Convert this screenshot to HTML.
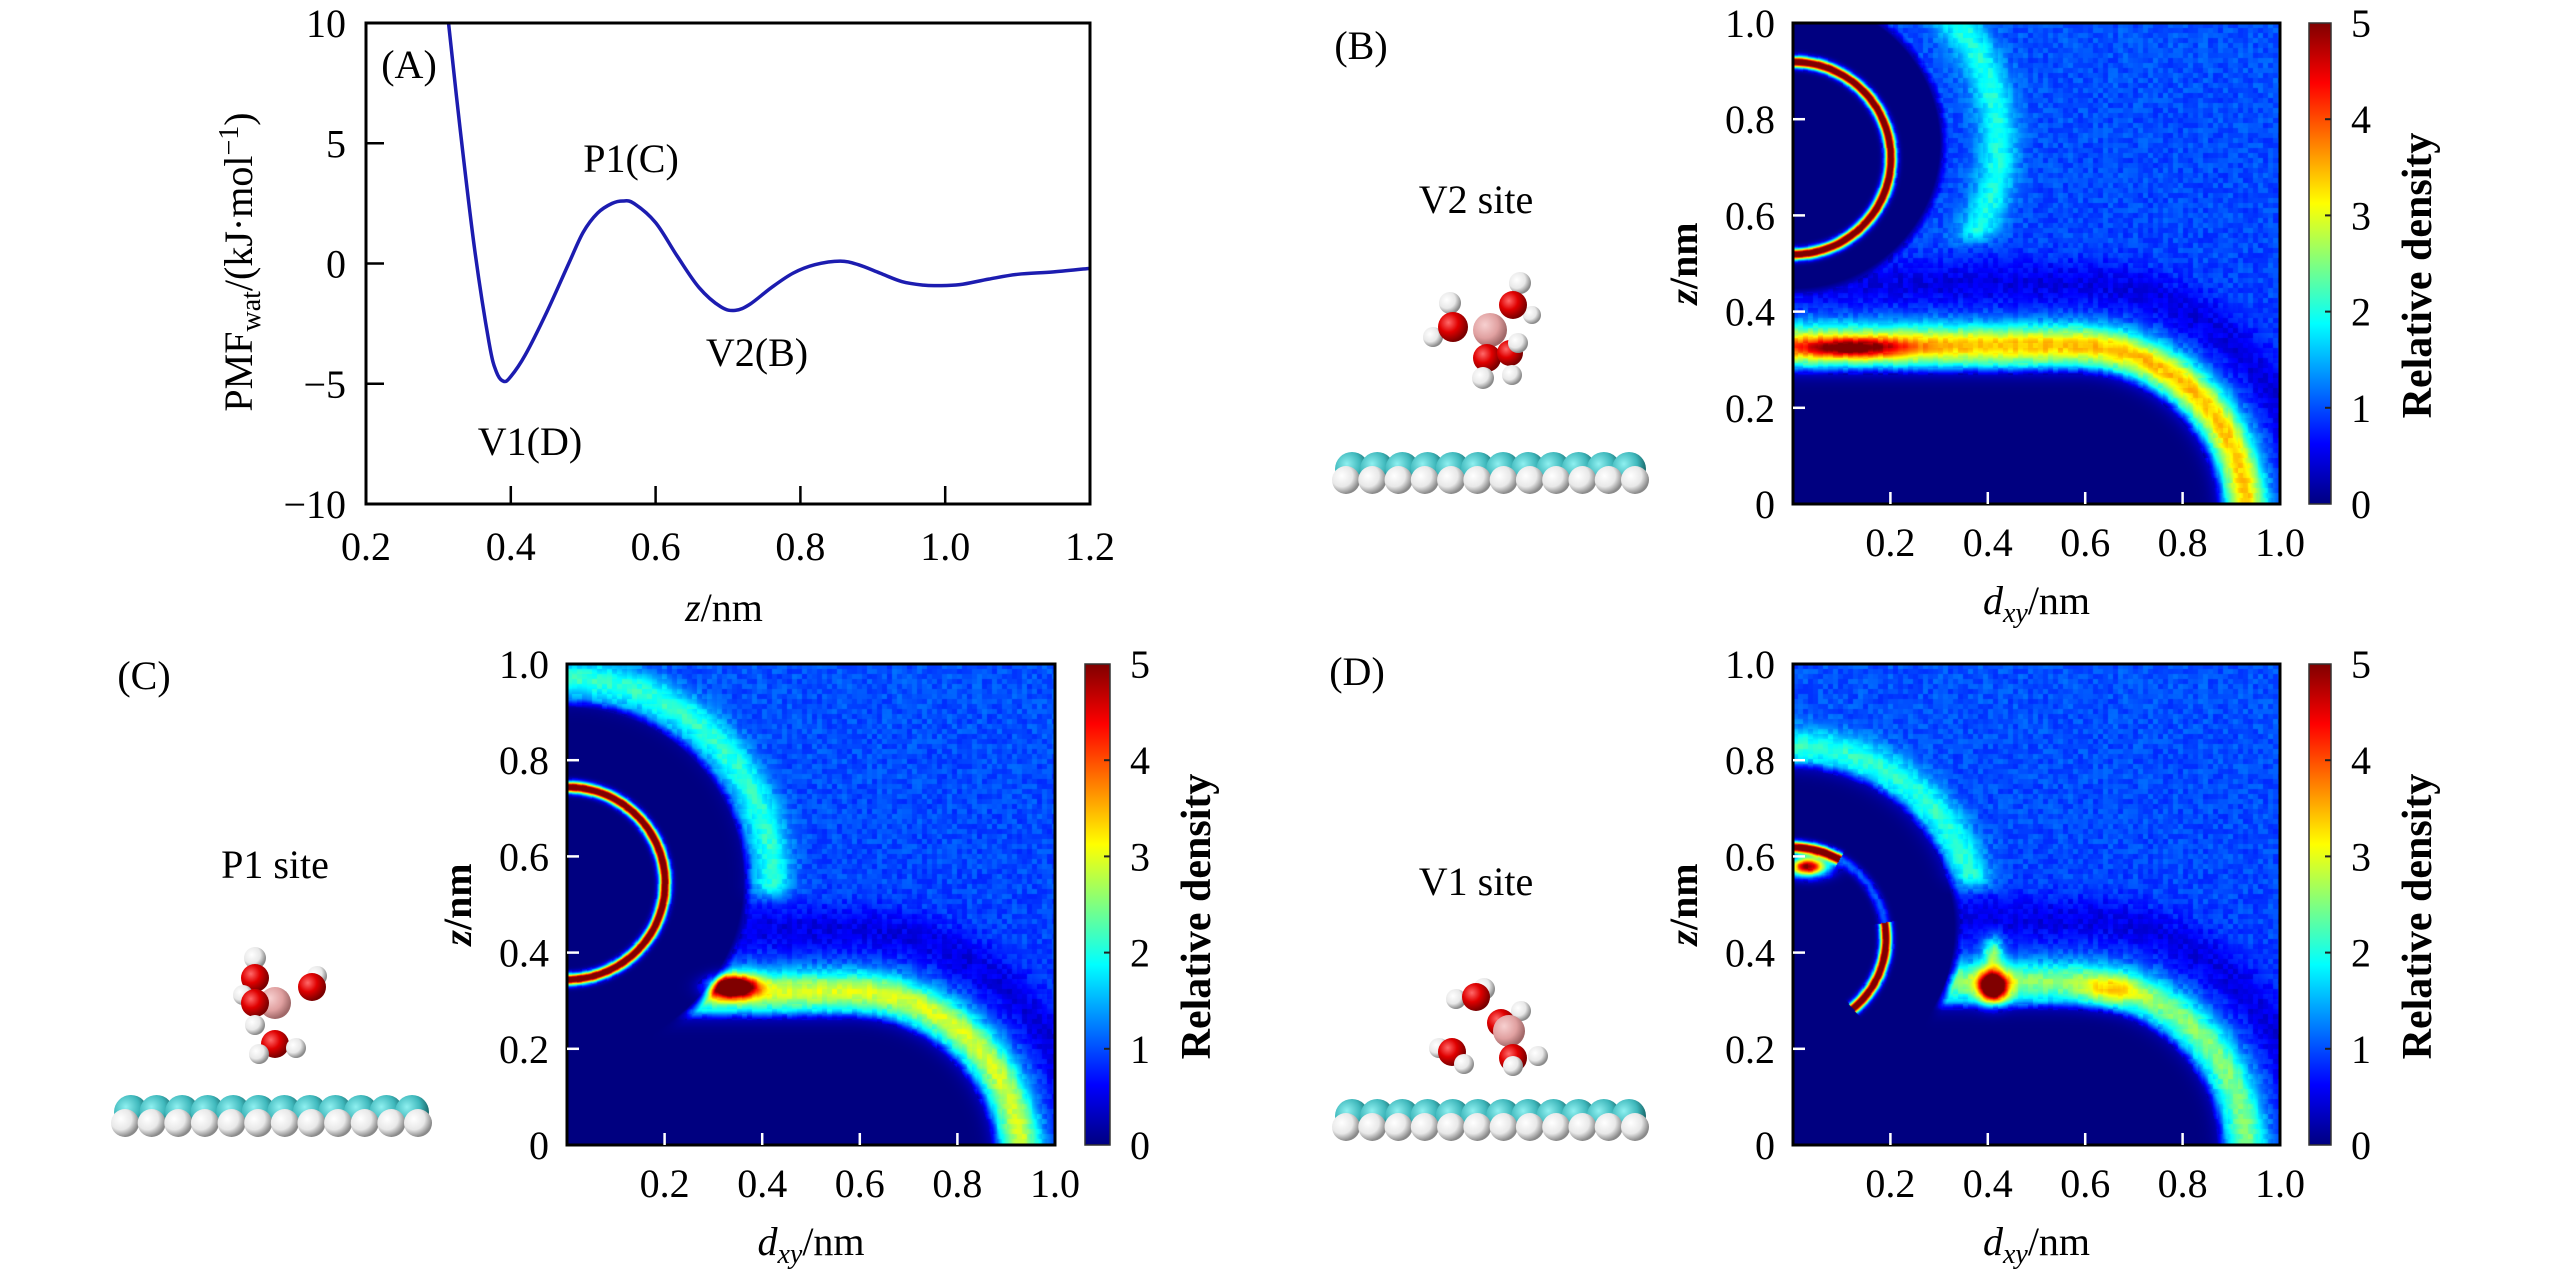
<!DOCTYPE html>
<html><head><meta charset="utf-8"><style>
html,body{margin:0;padding:0;background:#fff;}
body{width:2567px;height:1276px;position:relative;overflow:hidden;font-family:"Liberation Serif",serif;}
canvas{position:absolute;}
svg{position:absolute;left:0;top:0;}
</style></head><body>
<canvas id="hmB" width="487" height="481" style="left:1793px;top:23px;width:487px;height:481px"></canvas>
<canvas id="hmC" width="488" height="481" style="left:567px;top:664px;width:488px;height:481px"></canvas>
<canvas id="hmD" width="487" height="481" style="left:1793px;top:664px;width:487px;height:481px"></canvas>
<svg id="fig" width="2567" height="1276" viewBox="0 0 2567 1276" font-family="Liberation Serif, serif">
<defs>
<radialGradient id="gO" cx="35%" cy="35%" r="65%"><stop offset="0" stop-color="#ff6a6a"/><stop offset="0.5" stop-color="#e00000"/><stop offset="1" stop-color="#7a0000"/></radialGradient>
<radialGradient id="gH" cx="35%" cy="35%" r="65%"><stop offset="0" stop-color="#ffffff"/><stop offset="0.6" stop-color="#e8e8e8"/><stop offset="1" stop-color="#8a8a8a"/></radialGradient>
<radialGradient id="gB" cx="35%" cy="35%" r="65%"><stop offset="0" stop-color="#f7d0d0"/><stop offset="0.6" stop-color="#e0a0a0"/><stop offset="1" stop-color="#a06868"/></radialGradient>
<radialGradient id="gC" cx="35%" cy="35%" r="65%"><stop offset="0" stop-color="#8ff0f0"/><stop offset="0.6" stop-color="#3fb8bc"/><stop offset="1" stop-color="#1a6a6c"/></radialGradient>
<linearGradient id="jet" x1="0" y1="1" x2="0" y2="0">
<stop offset="0" stop-color="#000080"/><stop offset="0.125" stop-color="#0000ff"/><stop offset="0.375" stop-color="#00ffff"/><stop offset="0.625" stop-color="#ffff00"/><stop offset="0.875" stop-color="#ff0000"/><stop offset="1" stop-color="#800000"/>
</linearGradient>
<clipPath id="clipA"><rect x="366" y="23" width="724" height="481"/></clipPath>
</defs>
<g id="panelA"></g>
<g id="overlay"></g>
</svg>
<script>
// ===== Panel A data =====
const pmfZ = [0.314,0.33,0.35,0.37,0.38,0.39,0.40,0.42,0.45,0.48,0.50,0.52,0.54,0.555,0.57,0.60,0.63,0.66,0.69,0.71,0.73,0.76,0.79,0.82,0.855,0.88,0.91,0.94,0.97,0.99,1.02,1.06,1.10,1.15,1.2];
const pmfVal = [10,5.6,0.6,-3.3,-4.5,-4.9,-4.7,-3.8,-2.0,0.0,1.3,2.1,2.5,2.6,2.5,1.7,0.3,-1.0,-1.8,-1.95,-1.7,-1.0,-0.4,-0.05,0.1,-0.05,-0.4,-0.75,-0.9,-0.92,-0.88,-0.65,-0.45,-0.35,-0.2];
const xTicksA = [0.2,0.4,0.6,0.8,1.0,1.2];
const xTickLabelsA = ["0.2","0.4","0.6","0.8","1.0","1.2"];
const yTicksA = [10,5,0,-5,-10];
const yTickLabelsA = ["10","5","0","\u22125","\u221210"];
// ===== Heatmap feature data (dxy, z in nm; density) =====
const ringB=[0,0.72,0.2], ringC=[0,0.545,0.2], ringD=[0,0.43,0.19];
// visible angle ranges of the red ring [from,to,amp]
const ringArcB=[[-91,91,6]], ringArcC=[[-91,91,6]], ringArcD=[[-50,10,6],[10,60,1.0],[60,91,6]];
const exclB=[0,0.75,0.31], exclC=[0,0.55,0.37], exclD=[0,0.45,0.34];
const shellB=[0,0.75,0.42,1.0,0.53], shellC=[0,0.55,0.42,1.1,0.5], shellD=[0,0.45,0.38,1.1,0.52];
const cornerB=[0.88,0.28,0.3], cornerC=[0.88,0.27,0.3], cornerD=[0.88,0.29,0.3];
const bandAmpB=2.5, bandAmpC=2.0, bandAmpD=1.6;
const hotB=[[0.12,0.325,0.11,0.02,2.0]];
const hotC=[[0.34,0.33,0.045,0.022,4.5]];
const hotD=[[0.41,0.33,0.028,0.03,5],[0.41,0.4,0.02,0.035,1.5],[0.65,0.32,0.06,0.03,1.0],[0.03,0.58,0.04,0.02,5]];
const xTicksH=[0.2,0.4,0.6,0.8,1.0];
const yTicksH=[0,0.2,0.4,0.6,0.8,1.0];
const yTickLabelsH=["0","0.2","0.4","0.6","0.8","1.0"];
const cbTicks=[0,1,2,3,4,5];

const NS="http://www.w3.org/2000/svg";
function mk(tag,attrs,parent,text){const e=document.createElementNS(NS,tag);for(const k in attrs)e.setAttribute(k,attrs[k]);if(text!==undefined)e.textContent=text;parent.appendChild(e);return e;}
const svg=document.getElementById('fig');
const pA=document.getElementById('panelA');

// ===== Panel A =====
const AX0=366,AX1=1090,AY0=23,AY1=504;
const sxA=z=>AX0+(z-0.2)/(1.2-0.2)*(AX1-AX0);
const syA=v=>AY0+(10-v)/20*(AY1-AY0);
{
 const pts=pmfZ.map((z,i)=>[sxA(z),syA(pmfVal[i])]);
 let d=`M${pts[0][0]},${pts[0][1]}`;
 for(let i=0;i<pts.length-1;i++){
  const p0=pts[Math.max(0,i-1)],p1=pts[i],p2=pts[i+1],p3=pts[Math.min(pts.length-1,i+2)];
  const c1=[p1[0]+(p2[0]-p0[0])/6,p1[1]+(p2[1]-p0[1])/6];
  const c2=[p2[0]-(p3[0]-p1[0])/6,p2[1]-(p3[1]-p1[1])/6];
  d+=` C${c1[0]},${c1[1]} ${c2[0]},${c2[1]} ${p2[0]},${p2[1]}`;
 }
 const line=mk('path',{d:d,fill:'none',stroke:'#1c1cb0','stroke-width':3.5,'clip-path':'url(#clipA)'},pA);
 
 
 const box=mk('rect',{x:AX0,y:AY0,width:AX1-AX0,height:AY1-AY0,fill:'none',stroke:'#000','stroke-width':3},pA);
 
 
 xTicksA.forEach((t,i)=>{
  const x=sxA(t);
  if(i>0&&i<xTicksA.length-1){const tk=mk('line',{x1:x,x2:x,y1:AY1,y2:AY1-18,stroke:'#000','stroke-width':2.5},pA);
   }
  const lb=mk('text',{x:x,y:560,'font-size':40,'text-anchor':'middle'},pA,xTickLabelsA[i]);
  
  
 });
 yTicksA.forEach((t,i)=>{
  const y=syA(t);
  if(i>0&&i<yTicksA.length-1){const tk=mk('line',{x1:AX0,x2:AX0+18,y1:y,y2:y,stroke:'#000','stroke-width':2.5},pA);
   }
  const lb=mk('text',{x:346,y:y+14,'font-size':40,'text-anchor':'end'},pA,yTickLabelsA[i]);
  
  
 });
}

// ===== Heatmaps =====
function jet(t){t=Math.max(0,Math.min(1,t));const c=v=>Math.round(255*Math.max(0,Math.min(1,v)));
 return [c(1.5-Math.abs(4*t-3)),c(1.5-Math.abs(4*t-2)),c(1.5-Math.abs(4*t-1))];}
function hash(i,j){let h=(i*374761393+j*668265263)|0;h=(h^(h>>>13))*1274126177|0;return ((h^(h>>>16))>>>0)/4294967295;}
function cornerSD(x,z,c){const qx=x-(c[0]-c[2]),qz=z-(c[1]-c[2]);return (qx>0&&qz>0)?Math.hypot(qx,qz)-c[2]:Math.max(qx,qz)-c[2];}
function renderHeat(id,ring,arcs,excl,shell,corner,bandAmp,hots){
 const cv=document.getElementById(id),ctx=cv.getContext('2d');const W=cv.width,H=cv.height;
 const img=ctx.createImageData(W,H);
 for(let j=0;j<H;j++){for(let i=0;i<W;i++){
  const x=i/W,z=1-j/H;
  const dE=Math.hypot(x-excl[0],z-excl[1])-excl[2];
  const mC=Math.max(0,Math.min(1,dE/0.02+0.5));
  const sdc=cornerSD(x,z,corner);
  const mK=Math.max(0,Math.min(1,sdc/0.02+0.5));
  let v=(0.9+0.12*z)*mC*mK;
  v+= -0.45*Math.exp(-Math.pow((sdc-0.18)/0.05,2))*mC*mK;
  v+= bandAmp*Math.exp(-Math.pow((sdc-0.05)/0.042,2))*mC;
  if(z>shell[4]){const ds=Math.hypot(x-shell[0],z-shell[1])-shell[2];v+=shell[3]*Math.exp(-Math.pow(ds/0.04,2))*Math.min(1,(z-shell[4])/0.04);}
  const dr=Math.hypot(x-ring[0],z-ring[1])-ring[2];
  const ang=Math.atan2(z-ring[1],x-ring[0])*180/Math.PI;
  let ra=0;for(const a of arcs){if(ang>=a[0]&&ang<a[1])ra=a[2];}
  v+=ra*Math.exp(-Math.pow(dr/0.011,2));
  for(const h of hots){v+=h[4]*Math.exp(-Math.pow((x-h[0])/h[2],2)-Math.pow((z-h[1])/h[3],2));}
  if(v>0.3) v+= (hash(Math.floor(i/5),Math.floor(j/5))-0.5)*0.35;
  const c=jet(v/5);const k=(j*W+i)*4;
  img.data[k]=c[0];img.data[k+1]=c[1];img.data[k+2]=c[2];img.data[k+3]=255;
 }}
 ctx.putImageData(img,0,0);
}
renderHeat('hmB',ringB,ringArcB,exclB,shellB,cornerB,bandAmpB,hotB);
renderHeat('hmC',ringC,ringArcC,exclC,shellC,cornerC,bandAmpC,hotC);
renderHeat('hmD',ringD,ringArcD,exclD,shellD,cornerD,bandAmpD,hotD);

function heatAxes(px0,px1,py0,py1,cb0,cb1,suffix){
 const g=mk('g',{},svg);
 
 
 const sx=v=>px0+v*(px1-px0), sy=v=>py1-v*(py1-py0);
 const fr=mk('rect',{x:px0,y:py0,width:px1-px0,height:py1-py0,fill:'none',stroke:'#000','stroke-width':3},g);
 
 
 xTicksH.forEach(t=>{
  const x=sx(t);
  if(t<1){const tk=mk('line',{x1:x,x2:x,y1:py1,y2:py1-12,stroke:'#fff','stroke-width':2.5},g);
   }
  const lb=mk('text',{x:x,y:py1+52,'font-size':40,'text-anchor':'middle'},g,t.toFixed(1));
  
  
 });
 yTicksH.forEach((t,i)=>{
  const y=sy(t);
  if(t>0&&t<1){const tk=mk('line',{x1:px0,x2:px0+12,y1:y,y2:y,stroke:'#fff','stroke-width':2.5},g);
   }
  const lb=mk('text',{x:px0-18,y:y+14,'font-size':40,'text-anchor':'end'},g,yTickLabelsH[i]);
  
  
 });
 const xt=mk('text',{x:(px0+px1)/2,y:py1+110,'font-size':40,'text-anchor':'middle'},g);
 
 
 mk('tspan',{'font-style':'italic'},xt,'d');
 mk('tspan',{'font-style':'italic','font-size':28,dy:8},xt,'xy');
 mk('tspan',{dy:-8},xt,'/nm');
 const yt=mk('text',{x:0,y:0,'font-size':40,'text-anchor':'middle','font-weight':'bold',transform:`translate(${px0-96},${(py0+py1)/2}) rotate(-90)`},g);
 
 
 mk('tspan',{'font-style':'italic'},yt,'z');
 mk('tspan',{},yt,'/nm');
 const cb=mk('rect',{x:cb0,y:py0,width:cb1-cb0,height:py1-py0,fill:'url(#jet)',stroke:'#333','stroke-width':1.5},g);
 
 
 cbTicks.forEach(t=>{
  const y=py1-t/5*(py1-py0);
  if(t>0&&t<5){const tk=mk('line',{x1:cb1-6,x2:cb1,y1:y,y2:y,stroke:'#222','stroke-width':2},g);
   }
  const lb=mk('text',{x:cb1+20,y:y+14,'font-size':40},g,String(t));
  
  
 });
 const ct=mk('text',{x:0,y:0,'font-size':42,'text-anchor':'middle','font-weight':'bold',transform:`translate(${cb1+100},${(py0+py1)/2+12}) rotate(-90)`},g,'Relative density');
 
 
}
heatAxes(1793,2280,23,504,2309,2331,'b');
heatAxes(567,1055,664,1145,1085,1110,'c');
heatAxes(1793,2280,664,1145,2309,2331,'d');

// ===== Molecule pictures =====
function surface(x0,x1,y,name){
 const g=mk('g',{},svg);
 
 
 const n=12;
 for(let k=0;k<n;k++){const x=x0+20+k*(x1-x0-40)/(n-1);mk('circle',{cx:x,cy:y-6,r:17,fill:'url(#gC)'},g);}
 for(let k=0;k<n;k++){const x=x0+14+k*(x1-x0-28)/(n-1);mk('circle',{cx:x,cy:y+5,r:14,fill:'url(#gH)'},g);}
}
function molecule(atoms,name){
 const g=mk('g',{},svg);
 
 
 atoms.forEach(a=>mk('circle',{cx:a[1],cy:a[2],r:a[3],fill:a[0]==='O'?'url(#gO)':a[0]==='H'?'url(#gH)':'url(#gB)'},g));
}
surface(1332,1649,475,'graphene-surface-b');
surface(111,432,1118,'graphene-surface-c');
surface(1332,1649,1122,'graphene-surface-d');
molecule([['H',1450,303,11],['H',1433,337,10],['H',1520,283,11],['H',1532,315,9],['O',1453,327,15],['O',1513,305,14],['B',1490,330,17],['O',1487,358,14],['O',1510,353,13],['H',1518,343,10],['H',1483,378,11],['H',1512,375,10]],'cluster-v2');
molecule([['H',255,958,11],['H',317,976,10],['O',255,978,14],['O',312,987,14],['H',243,995,10],['B',275,1003,16],['O',255,1003,14],['H',255,1025,10],['O',275,1044,14],['H',259,1054,10],['H',296,1048,10]],'cluster-p1');
molecule([['H',1484,989,11],['H',1456,999,10],['O',1476,997,14],['H',1521,1011,10],['O',1501,1023,14],['B',1509,1031,16],['H',1439,1048,10],['O',1452,1052,14],['O',1513,1058,14],['H',1538,1056,10],['H',1464,1064,10],['H',1513,1066,10]],'cluster-v1');
</script>
<script>
(function(){
 const NS="http://www.w3.org/2000/svg",ov=document.getElementById('overlay');
 function t(x,y,s,name){const e=document.createElementNS(NS,'text');e.setAttribute('x',x);e.setAttribute('y',y);e.setAttribute('font-size',40);e.setAttribute('text-anchor','middle');e.textContent=s;
  
  
  ov.appendChild(e);return e;}
 t(409,78,'(A)','panel-label-a');
 t(631,172,'P1(C)','label-p1');
 t(757,366,'V2(B)','label-v2');
 t(530,455,'V1(D)','label-v1');
 t(1361,59,'(B)','panel-label-b');
 t(1476,213,'V2 site','site-label-v2');
 t(144,689,'(C)','panel-label-c');
 t(275,878,'P1 site','site-label-p1');
 t(1357,685,'(D)','panel-label-d');
 t(1476,895,'V1 site','site-label-v1');
 const xt=document.createElementNS(NS,'text');xt.setAttribute('x',724);xt.setAttribute('y',621);xt.setAttribute('font-size',40);xt.setAttribute('text-anchor','middle');
 
 
 xt.innerHTML='<tspan font-style="italic">z</tspan>/nm';ov.appendChild(xt);
 const yt=document.createElementNS(NS,'text');yt.setAttribute('font-size',40);yt.setAttribute('text-anchor','middle');yt.setAttribute('transform','translate(252,262) rotate(-90)');
 
 
 yt.innerHTML='PMF<tspan font-size="28" dy="8">wat</tspan><tspan dy="-8">/(kJ·mol</tspan><tspan font-size="28" dy="-14">−1</tspan><tspan dy="14">)</tspan>';ov.appendChild(yt);
})();
</script>
</body></html>
